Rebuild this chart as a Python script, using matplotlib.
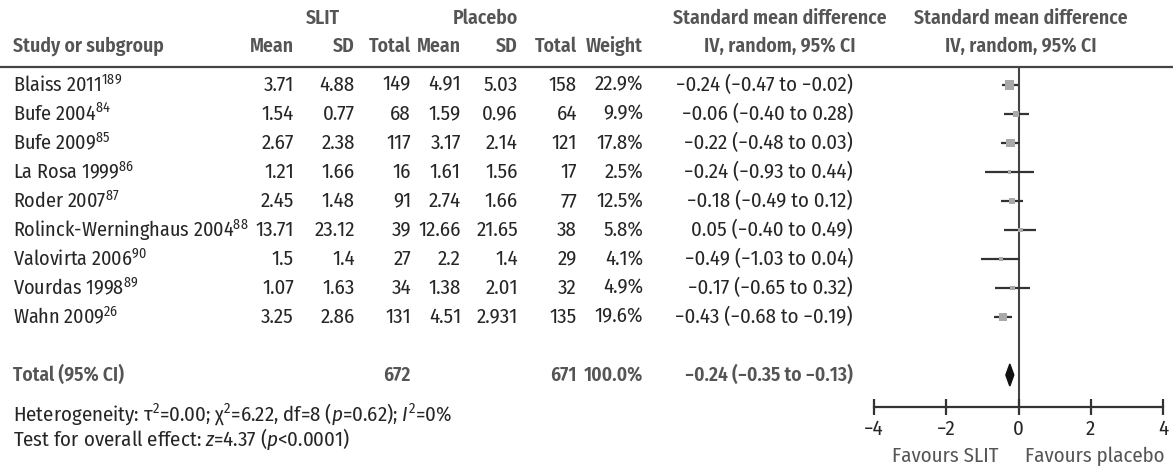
import matplotlib
matplotlib.use("Agg")
import matplotlib.pyplot as plt
import numpy as np

FONT = ['Fira Sans Condensed', 'Liberation Sans', 'DejaVu Sans']
plt.rcParams['font.family'] = FONT
plt.rcParams['mathtext.fontset'] = 'custom'
plt.rcParams['mathtext.rm'] = 'Fira Sans Condensed'
plt.rcParams['mathtext.it'] = 'Fira Sans Condensed:italic'
plt.rcParams['mathtext.bf'] = 'Fira Sans Condensed:bold'

# ---------------- data ----------------
studies = ['Blaiss 2011', 'Bufe 2004', 'Bufe 2009', 'La Rosa 1999', 'Roder 2007',
           'Rolinck-Werninghaus 2004', 'Valovirta 2006', 'Vourdas 1998', 'Wahn 2009']
refs = ['189', '84', '85', '86', '87', '88', '90', '89', '26']
slit_mean = [3.71, 1.54, 2.67, 1.21, 2.45, 13.71, 1.5, 1.07, 3.25]
slit_sd = [4.88, 0.77, 2.38, 1.66, 1.48, 23.12, 1.4, 1.63, 2.86]
slit_n = [149, 68, 117, 16, 91, 39, 27, 34, 131]
plac_mean = [4.91, 1.59, 3.17, 1.61, 2.74, 12.66, 2.2, 1.38, 4.51]
plac_sd = [5.03, 0.96, 2.14, 1.56, 1.66, 21.65, 1.4, 2.01, 2.931]
plac_n = [158, 64, 121, 17, 77, 38, 29, 32, 135]
weights = [22.9, 9.9, 17.8, 2.5, 12.5, 5.8, 4.1, 4.9, 19.6]
smd = [-0.24, -0.06, -0.22, -0.24, -0.18, 0.05, -0.49, -0.17, -0.43]
ci_low = [-0.47, -0.40, -0.48, -0.93, -0.49, -0.40, -1.03, -0.65, -0.68]
ci_high = [-0.02, 0.28, 0.03, 0.44, 0.12, 0.49, 0.04, 0.32, -0.19]
total_slit_n = 672
total_plac_n = 671
total_weight = 100.0
total_smd = -0.24
total_low = -0.35
total_high = -0.13
axis_ticks = [-4, -2, 0, 2, 4]

# ---------------- helpers ----------------
def mn(v):
    return f"{v:.2f}".replace('-', '\u2212')

def ci_text(e, l, h):
    return f"{mn(e)} ({mn(l)} to {mn(h)})"

W, H = 1173, 469
fig = plt.figure(figsize=(W / 100, H / 100), dpi=100)
bg = fig.add_axes([0, 0, 1, 1])
bg.set_xlim(0, W)
bg.set_ylim(H, 0)
bg.axis('off')

FS = 15
FS_LAB = 14.5
FS_HDR = 14.2
FS_TOT = 14
TXT = '#262626'
HDR = '#555555'
HW = 'semibold'

# column anchor x (pixels)
x_study = 13
x_cols = [294, 355, 411, 461, 518, 577, 643]
x_ci = 853
x_ci_center = 780
x_plot_center = 1021

y_h1, y_h2, y_line = 18, 46, 67
row0, dy = 85, 29

def T(x, y, s, ha='left', color=TXT, weight='normal', size=FS):
    bg.text(x, y, s, ha=ha, va='center', color=color, fontsize=size,
            fontweight=weight, family=FONT)

# headers
T(323, y_h1, 'SLIT', 'center', HDR, HW, FS_HDR)
T(485, y_h1, 'Placebo', 'center', HDR, HW, FS_HDR)
T(x_ci_center, y_h1, 'Standard mean difference', 'center', HDR, HW, FS_HDR)
T(x_plot_center, y_h1, 'Standard mean difference', 'center', HDR, HW, FS_HDR)
T(x_study, y_h2, 'Study or subgroup', 'left', HDR, HW, FS_HDR)
for x, lab in zip(x_cols, ['Mean', 'SD', 'Total', 'Mean', 'SD', 'Total', 'Weight']):
    T(x, y_h2, lab, 'right', HDR, HW, FS_HDR)
T(x_ci_center, y_h2, 'IV, random, 95% CI', 'center', HDR, HW, FS_HDR)
T(x_plot_center, y_h2, 'IV, random, 95% CI', 'center', HDR, HW, FS_HDR)
bg.plot([0, W], [y_line, y_line], color='#444444', lw=1.6)

# study rows
for i, name in enumerate(studies):
    y = row0 + dy * i
    T(x_study, y, name + r'$^{\mathrm{' + refs[i] + '}}$', size=FS_LAB)
    vals = [f"{slit_mean[i]:g}", f"{slit_sd[i]:g}", str(slit_n[i]),
            f"{plac_mean[i]:g}", f"{plac_sd[i]:g}", str(plac_n[i]),
            f"{weights[i]:.1f}%"]
    for x, v in zip(x_cols, vals):
        T(x, y, v, 'right')
    T(x_ci, y, ci_text(smd[i], ci_low[i], ci_high[i]), 'right')

# total row
tot_row = len(studies) + 1
y_tot = row0 + dy * tot_row
TW = 'semibold'
T(x_study, y_tot, 'Total (95% CI)', 'left', HDR, TW, FS_TOT)
T(x_cols[2], y_tot, str(total_slit_n), 'right', HDR, TW, FS_TOT)
T(x_cols[5], y_tot, str(total_plac_n), 'right', HDR, TW, FS_TOT)
T(x_cols[6], y_tot, f"{total_weight:.1f}%", 'right', HDR, TW, FS_TOT)
T(x_ci, y_tot, ci_text(total_smd, total_low, total_high), 'right', HDR, TW, FS_TOT)

T(x_study, 414, r'Heterogeneity: τ$^{2}$=0.00; χ$^{2}$=6.22, df=8 ($p$=0.62); $I^{2}$=0%')
T(x_study, 439, r'Test for overall effect: $z$=4.37 ($p$<0.0001)')

# ---------------- forest axes ----------------
x_left, x_right = 874, 1163
y_top, y_axis = y_line, 407
ax = fig.add_axes([x_left / W, 1 - y_axis / H, (x_right - x_left) / W, (y_axis - y_top) / H])
ax.set_xlim(axis_ticks[0], axis_ticks[-1])
ax.set_ylim((y_axis - row0) / dy, (y_top - row0) / dy)
ax.patch.set_alpha(0)
for s in ['top', 'left', 'right']:
    ax.spines[s].set_visible(False)
ax.spines['bottom'].set_linewidth(1.6)
ax.spines['bottom'].set_color('#333333')
ax.set_yticks([])
ax.set_xticks(axis_ticks)
ax.set_xticklabels([str(t).replace('-', '\u2212') for t in axis_ticks])
ax.tick_params(axis='x', direction='inout', length=12, width=1.6, color='#333333',
               labelsize=FS, labelcolor=TXT, pad=3)
for lab in ax.get_xticklabels():
    lab.set_family(FONT)

ax.axvline(0, color='#444444', lw=1.5, zorder=1)
rows = np.arange(len(studies))
ax.hlines(rows, ci_low, ci_high, color='#333333', lw=1.6, zorder=2)
side_px = 1.95 * np.sqrt(np.array(weights))
ax.scatter(smd, rows, marker='s', s=(side_px * 0.72) ** 2, color='#a9a9a9',
           edgecolors='none', zorder=3)
hh = 0.38
ax.fill([total_low, total_smd, total_high, total_smd],
        [tot_row, tot_row - hh, tot_row, tot_row + hh], color='#111111', zorder=3)

T(945, 456, 'Favours SLIT', 'center', HDR)
T(1095, 456, 'Favours placebo', 'center', HDR)

fig.savefig('out.png', dpi=100)
